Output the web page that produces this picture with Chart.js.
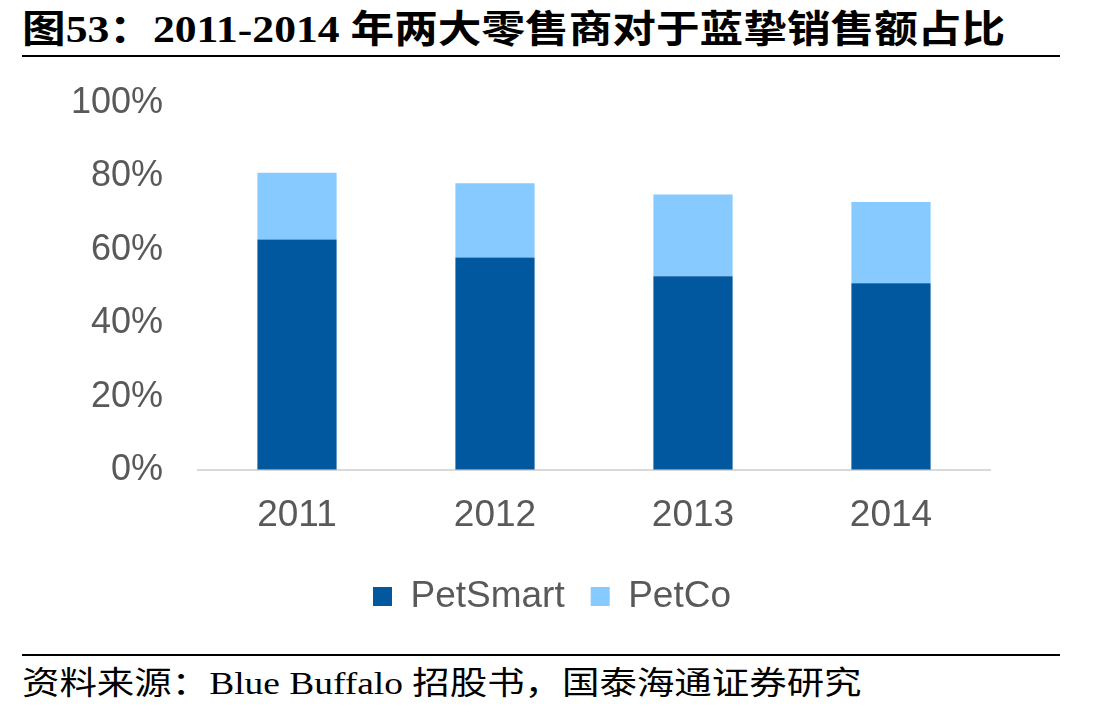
<!DOCTYPE html>
<html>
<head>
<meta charset="utf-8">
<script src="https://cdn.jsdelivr.net/npm/chart.js@4.4.1/dist/chart.umd.min.js"></script>
<style>
  html, body { margin: 0; padding: 0; background: #fff; width: 1108px; height: 713px; overflow: hidden; }
  .txt {
    position: absolute; left: 22px; line-height: 1; white-space: nowrap;
    font-family: "Liberation Serif", "Noto Sans CJK SC", serif; color: #000;
    transform-origin: 0 0;
  }
  #title { top: 10px; font-weight: bold; font-size: 38px; }
  #footer { top: 667px; font-size: 32px; }
  .rule { position: absolute; left: 22px; width: 1038px; height: 2px; background: #000; }
  #wrap { position: absolute; left: 0; top: 60px; width: 1050px; height: 580px; }
</style>
</head>
<body>
<div id="title" class="txt">图53：2011-2014 年两大零售商对于蓝挚销售额占比</div>
<div class="rule" style="top:55px"></div>
<div id="wrap"><canvas id="chart"></canvas></div>
<div class="rule" style="top:654px"></div>
<div id="footer" class="txt">资料来源：Blue Buffalo 招股书，国泰海通证券研究</div>

<script>
// --- data ---
const years = ['2011', '2012', '2013', '2014'];
const petSmart = [62.8, 57.9, 52.8, 50.9];
const petCo = [18.2, 20.2, 22.3, 22.1];
const yTicks = [0, 20, 40, 60, 80, 100];

const textGrey = '#595959';
const font = (size) => ({ family: '"Liberation Sans", Arial, sans-serif', size });

// stretch header / footer text to the widths seen in the picture
const fitWidth = (id, w) => {
  const el = document.getElementById(id);
  el.style.transform = `scaleX(${w / el.offsetWidth})`;
};
fitWidth('title', 983);
fitWidth('footer', 840);

// the legend in the picture sits a bit right of the canvas centre
const legendShift = {
  id: 'legendShift',
  afterLayout(chart) {
    chart.legend.left += 57;
    chart.legend.right += 57;
  }
};

new Chart(document.getElementById('chart'), {
  type: 'bar',
  data: {
    labels: years,
    datasets: [
      { label: 'PetSmart', data: petSmart, backgroundColor: '#02589E', categoryPercentage: 0.4, barPercentage: 1 },
      { label: 'PetCo', data: petCo, backgroundColor: '#87CAFF', categoryPercentage: 0.4, barPercentage: 1 }
    ]
  },
  plugins: [legendShift],
  options: {
    responsive: true,
    maintainAspectRatio: false,
    animation: false,
    layout: { padding: { top: 43, right: 60, bottom: 15, left: 0 } },
    plugins: {
      legend: {
        position: 'bottom',
        labels: {
          color: textGrey,
          font: font(37),
          boxWidth: 19,
          boxHeight: 19,
          padding: 26
        }
      },
      tooltip: { enabled: false }
    },
    scales: {
      x: {
        stacked: true,
        grid: { display: false, drawTicks: false },
        border: { display: true, color: '#D9D9D9', width: 2 },
        ticks: { color: textGrey, font: font(37), padding: 24 },
        afterFit: s => { s.height = 82; }
      },
      y: {
        stacked: true,
        min: 0, max: 100,
        afterBuildTicks: s => { s.ticks = yTicks.map(v => ({ value: v })); },
        // invisible tick marks give the label gap without adding vertical padding
        grid: { display: true, drawOnChartArea: false, drawTicks: true, tickLength: 35, color: 'rgba(0,0,0,0)' },
        border: { display: false },
        ticks: { color: textGrey, font: font(36), padding: 0, callback: v => v + '%' },
        afterFit: s => { s.width = 198; }
      }
    }
  }
});
</script>
</body>
</html>
